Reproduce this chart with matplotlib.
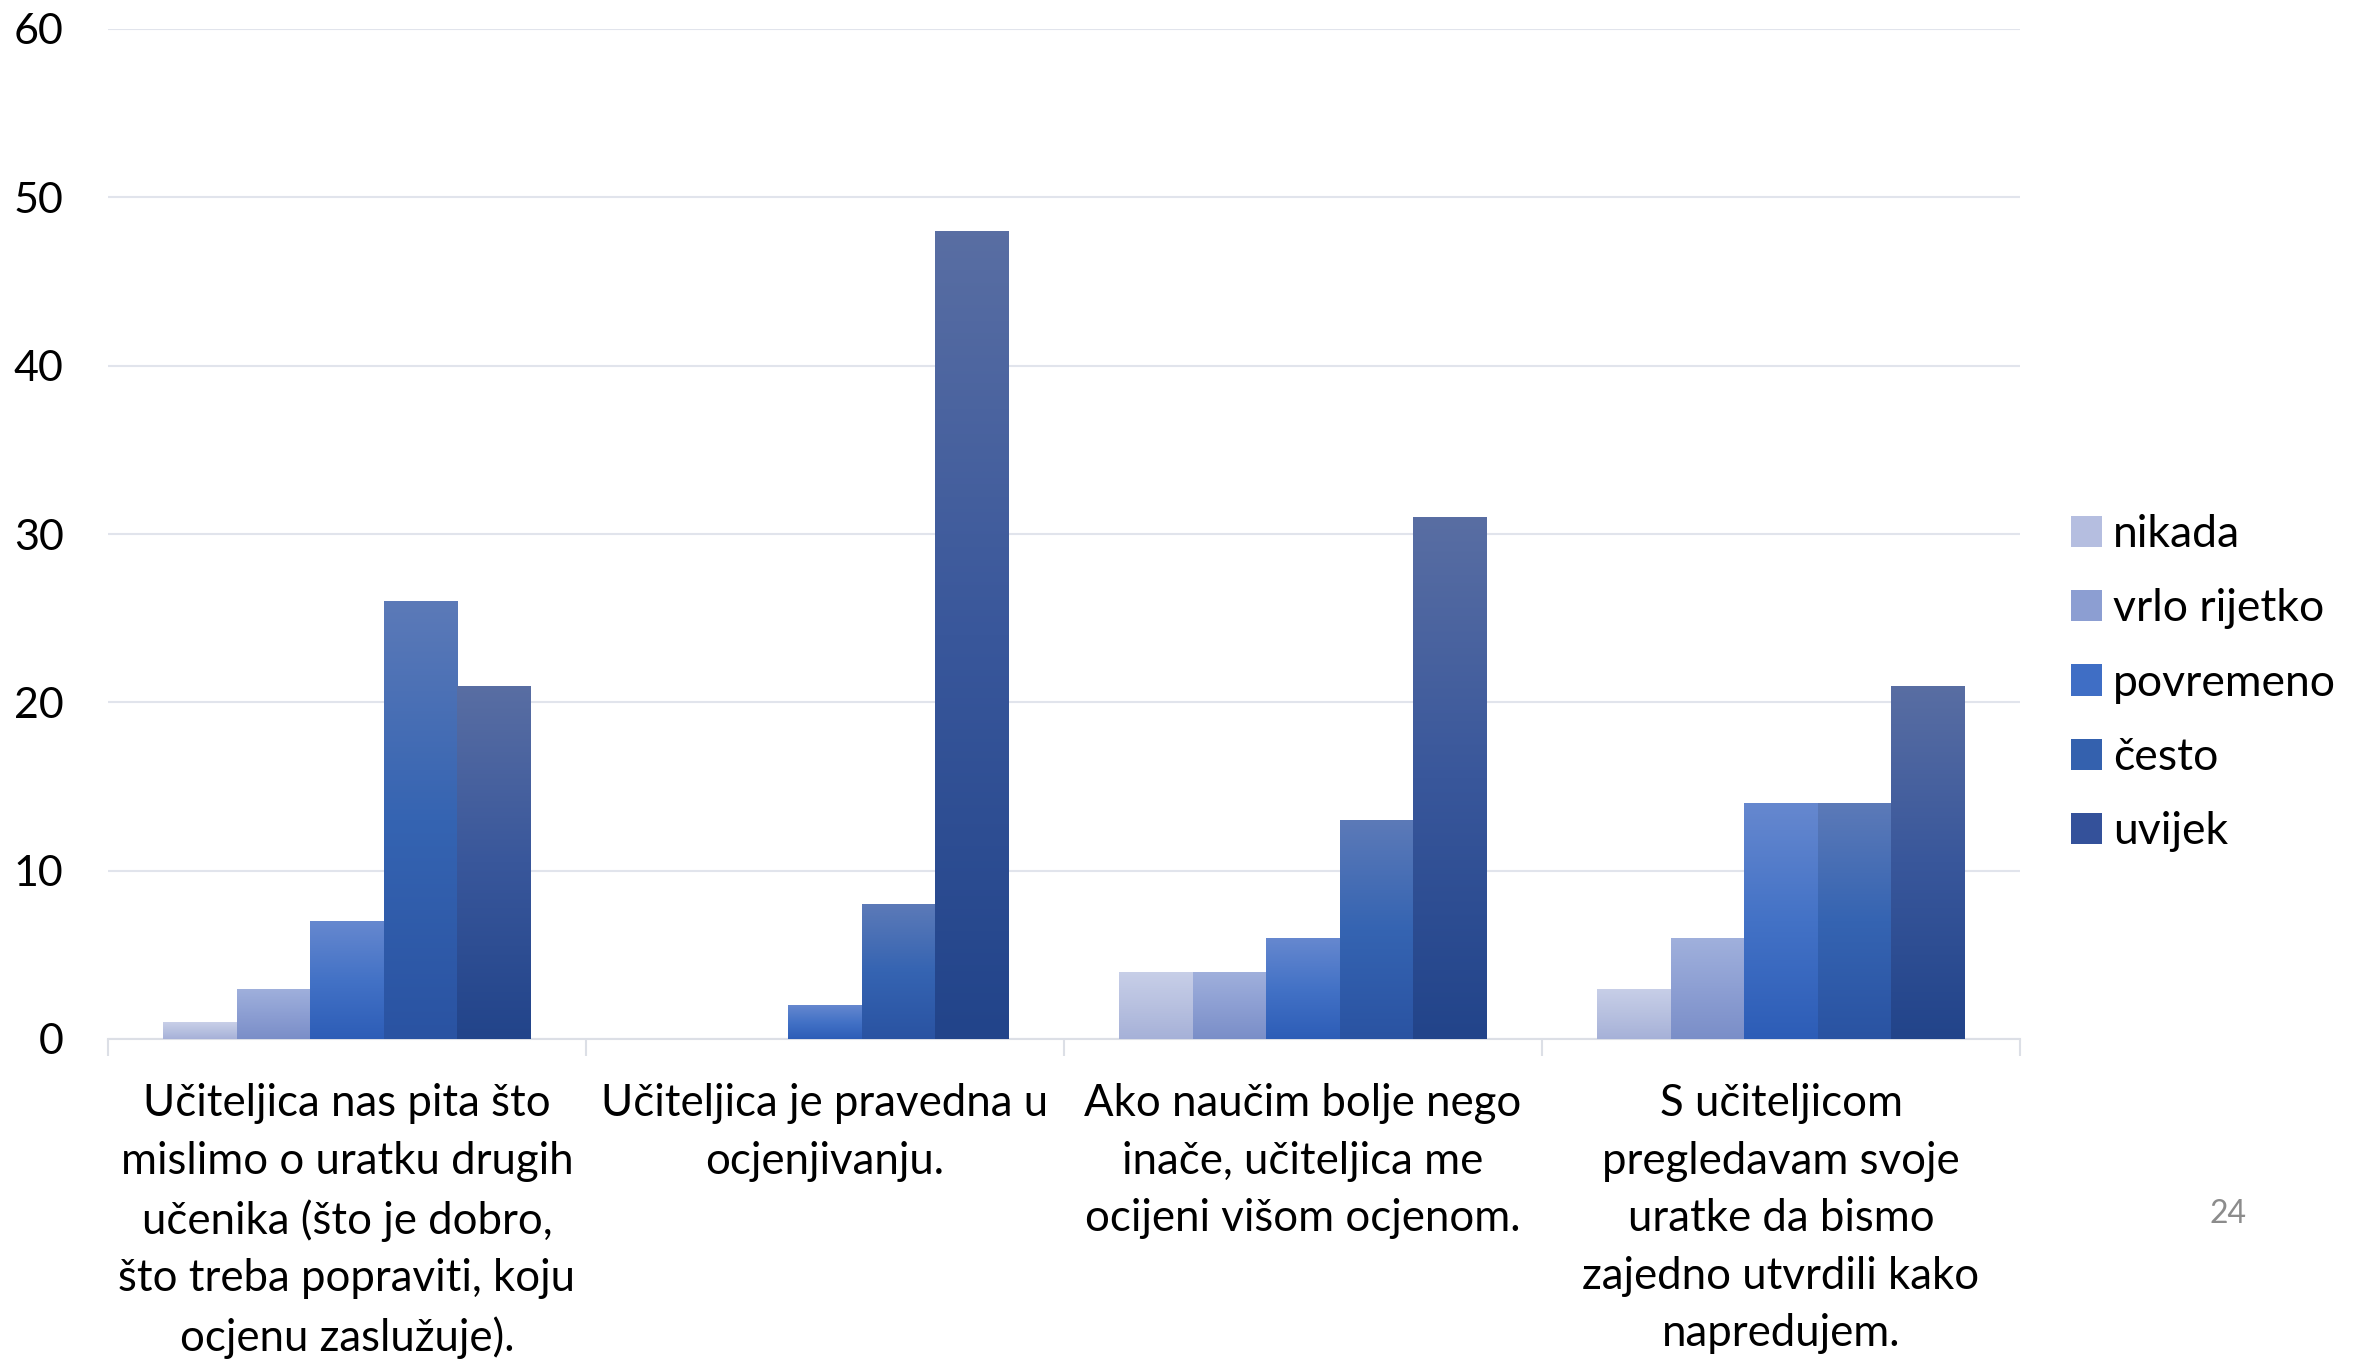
import numpy as np
import matplotlib
matplotlib.use("Agg")
import matplotlib.pyplot as plt
from matplotlib.colors import LinearSegmentedColormap
from matplotlib.patches import Rectangle

plt.rcParams["font.family"] = ["Lato", "DejaVu Sans"]

categories = [
    "Učiteljica nas pita što\nmislimo o uratku drugih\nučenika (što je dobro,\nšto treba popraviti, koju\nocjenu zaslužuje).",
    "Učiteljica je pravedna u\nocjenjivanju.",
    "Ako naučim bolje nego\ninače, učiteljica me\nocijeni višom ocjenom.",
    "S učiteljicom\npregledavam svoje\nuratke da bismo\nzajedno utvrdili kako\nnapredujem.",
]
series = ["nikada", "vrlo rijetko", "povremeno", "često", "uvijek"]
nikada = [1, 0, 4, 3]
vrlo_rijetko = [3, 0, 4, 6]
povremeno = [7, 2, 6, 14]
cesto = [26, 8, 13, 14]
uvijek = [21, 48, 31, 21]
values = [nikada, vrlo_rijetko, povremeno, cesto, uvijek]

# gradient stops per series: top, middle, bottom
grads = [
    ["#c8cfe8", "#b8c1e0", "#a6b1d8"],
    ["#a0b0dc", "#8d9fd3", "#7a8ec8"],
    ["#6688cf", "#4372c6", "#2d5db7"],
    ["#5c7ab8", "#3564b2", "#2a53a2"],
    ["#596ea3", "#39579b", "#22448a"],
]
legend_cols = ["#b5bee0", "#8c9ed2", "#3f6ec5", "#3461ae", "#34519a"]

W, H = 2364, 1360
fig = plt.figure(figsize=(W / 100, H / 100), dpi=100)
ax = fig.add_axes([108 / W, 1 - 1039 / H, (2020 - 108) / W, (1039 - 29) / H])

x = np.arange(len(categories))
bw = 0.154
grad = np.linspace(1, 0, 256).reshape(-1, 1)
for i, (vals, g) in enumerate(zip(values, grads)):
    cmap = LinearSegmentedColormap.from_list(series[i], g[::-1])
    for xc, v in zip(x + (i - 2) * bw, vals):
        if v <= 0:
            continue
        rect = Rectangle((xc - bw / 2, 0), bw, v, facecolor="none", edgecolor="none")
        ax.add_patch(rect)
        im = ax.imshow(grad, cmap=cmap, extent=(xc - bw / 2, xc + bw / 2, 0, v),
                       aspect="auto", interpolation="bilinear", zorder=3)
        im.set_clip_path(rect)

ax.set_xlim(-0.5, len(categories) - 0.5)
ax.set_ylim(0, 60)
ax.set_yticks(np.arange(0, 61, 10))
ax.yaxis.grid(True, color="#e1e4ec", lw=1.5, zorder=0)
ax.set_axisbelow(True)
for s in ["top", "right", "left"]:
    ax.spines[s].set_visible(False)
ax.spines["bottom"].set_color("#dcdfe6")
ax.spines["bottom"].set_linewidth(1.5)
ax.tick_params(axis="y", length=0, pad=32, labelsize=31)
ax.set_xticks(x)
ax.set_xticklabels(categories, fontsize=31.5, linespacing=1.5)
ax.tick_params(axis="x", which="major", length=0, pad=32)
ax.set_xticks(np.arange(-0.5, len(categories), 1), minor=True)
ax.tick_params(axis="x", which="minor", length=12, width=1.5, color="#dcdfe6")

handles = [Rectangle((0, 0), 1, 1, facecolor=c, edgecolor="none") for c in legend_cols]
fig.legend(handles, series, loc="center left", bbox_to_anchor=(2031 / W, 1 - 683 / H),
           frameon=False, fontsize=32, handlelength=0.7, handleheight=0.7,
           handletextpad=0.25, labelspacing=0.75)

fig.text(2228 / W, 1 - 1214 / H, "24", fontsize=23, color="#8c8c8c", ha="center", va="center")

fig.savefig("out.png", dpi=100, facecolor="white")
